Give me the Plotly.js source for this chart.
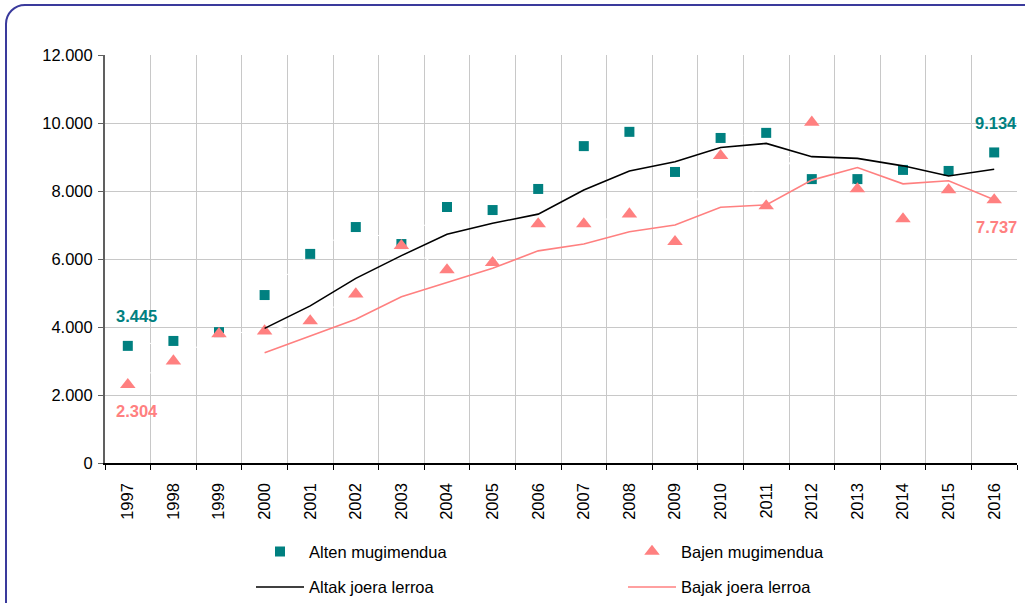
<!DOCTYPE html>
<html>
<head>
<meta charset="utf-8">
<script src="https://cdn.plot.ly/plotly-3.0.1.min.js"></script>
<style>
  html, body { margin: 0; padding: 0; background: #ffffff; overflow: hidden; }
  #wrap { position: relative; width: 1025px; height: 603px; }
  #chart { position: absolute; left: 0; top: 0; width: 1025px; height: 603px; }
  #frame { position: absolute; left: 5px; top: 4px; width: 1040px; height: 620px;
           border: 2.5px solid #3a3a9c; border-radius: 20px; pointer-events: none; box-sizing: border-box; }
</style>
</head>
<body>
<div id="wrap">
  <div id="chart"></div>
  <div id="frame"></div>
</div>
<script>
// ---- data ----
var years = ['1997','1998','1999','2000','2001','2002','2003','2004','2005','2006',
             '2007','2008','2009','2010','2011','2012','2013','2014','2015','2016'];
var altenMugimendua = [3445, 3590, 3850, 4940, 6150, 6940, 6440, 7530, 7440, 8060,
                       9320, 9740, 8560, 9560, 9710, 8350, 8350, 8620, 8590, 9134];
var bajenMugimendua = [2304, 3000, 3800, 3880, 4180, 4970, 6390, 5680, 5890, 7030,
                       7030, 7320, 6510, 9040, 7560, 10020, 8060, 7180, 8030, 7737];
var altakJoeraLerroa = [null, null, null, 3960, 4620, 5430, 6100, 6730, 7050, 7320,
                        8030, 8590, 8860, 9280, 9400, 9010, 8960, 8740, 8440, 8640];
var bajakJoeraLerroa = [null, null, null, 3240, 3730, 4230, 4890, 5300, 5730, 6240,
                        6440, 6800, 7000, 7520, 7590, 8320, 8690, 8210, 8300, 7740];
var seriesNames = ['Alten mugimendua', 'Bajen mugimendua', 'Altak joera lerroa', 'Bajak joera lerroa'];
var yTickVals = [0, 2000, 4000, 6000, 8000, 10000, 12000];

function fmt(n) {
  var s = String(Math.round(n));
  return s.replace(/\B(?=(\d{3})+(?!\d))/g, '.');
}

var FONT = 'Arial, "Liberation Sans", sans-serif';
var FS = 16.5;
var TEAL = '#008080';
var SALMON = '#ff8080';

var traces = [
  { x: years, y: altenMugimendua, name: seriesNames[0], type: 'scatter', mode: 'lines+markers',
    line: { color: '#ffffff', width: 1, dash: 'dash' },
    marker: { symbol: 'square', size: 10, color: TEAL }, legend: 'legend' },
  { x: years, y: bajenMugimendua, name: seriesNames[1], type: 'scatter', mode: 'lines+markers',
    line: { color: '#ffffff', width: 1, dash: 'dash' },
    marker: { symbol: 'triangle-up', size: 13.5, color: SALMON }, legend: 'legend2' },
  { x: years, y: altakJoeraLerroa, name: seriesNames[2], type: 'scatter', mode: 'lines',
    line: { color: '#000000', width: 1.6 }, legend: 'legend3' },
  { x: years, y: bajakJoeraLerroa, name: seriesNames[3], type: 'scatter', mode: 'lines',
    line: { color: SALMON, width: 1.6 }, legend: 'legend4' }
];

var L = 105, R = 1017, T = 55, B = 463;
function px2x(px) { return (px - L) / (R - L); }
function px2y(py) { return (B - py) / (B - T); }

function legendAt(xpx, ypx) {
  return { x: px2x(xpx), y: px2y(ypx), xanchor: 'left', yanchor: 'middle',
           orientation: 'h', bgcolor: 'rgba(0,0,0,0)', borderwidth: 0,
           itemwidth: 48, font: { family: FONT, size: FS, color: '#000000' } };
}

var n = years.length;
function label(idx, yv, dx, dy, color) {
  return { xref: 'x', yref: 'y', x: idx, y: yv, text: '<b>' + fmt(yv) + '</b>', showarrow: false,
           xanchor: 'center', yanchor: 'middle',
           xshift: dx, yshift: dy, font: { family: FONT, size: FS, color: color } };
}
var annotations = [
  label(0, altenMugimendua[0], 9, 30, TEAL),
  label(0, bajenMugimendua[0], 9, -26, SALMON),
  label(n - 1, altenMugimendua[n-1], 2, 29, TEAL),
  label(n - 1, bajenMugimendua[n-1], 2, -27, SALMON)
];

var layout = {
  width: 1025, height: 603,
  margin: { l: L, r: 1025 - R, t: T, b: 603 - B, pad: 0, autoexpand: false },
  paper_bgcolor: '#ffffff', plot_bgcolor: '#ffffff',
  separators: ',.',
  font: { family: FONT, size: FS, color: '#000000' },
  showlegend: true,
  xaxis: {
    type: 'category', range: [-0.5, n - 0.5], tickson: 'boundaries',
    showgrid: true, gridcolor: '#c8c8c8', gridwidth: 1,
    showline: true, linecolor: '#000000', linewidth: 1.5,
    ticks: 'outside', ticklen: 5, tickcolor: '#000000', tickwidth: 1,
    tickangle: -90, ticklabelstandoff: 12,
    tickfont: { family: FONT, size: FS, color: '#000000' },
    zeroline: false, fixedrange: true
  },
  yaxis: {
    range: [0, 12000], tickvals: yTickVals, ticktext: yTickVals.map(fmt),
    showgrid: true, gridcolor: '#c8c8c8', gridwidth: 1,
    showline: true, linecolor: '#606060', linewidth: 2,
    ticks: 'outside', ticklen: 5, tickcolor: '#606060', tickwidth: 1,
    ticklabelstandoff: 2,
    tickfont: { family: FONT, size: FS, color: '#000000' },
    zeroline: false, fixedrange: true
  },
  legend: legendAt(251, 551.7),
  legend2: legendAt(623, 551.7),
  legend3: legendAt(251, 587.3),
  legend4: legendAt(623, 587.3),
  annotations: annotations
};

Plotly.newPlot('chart', traces, layout, { displayModeBar: false, staticPlot: true });
</script>
</body>
</html>
